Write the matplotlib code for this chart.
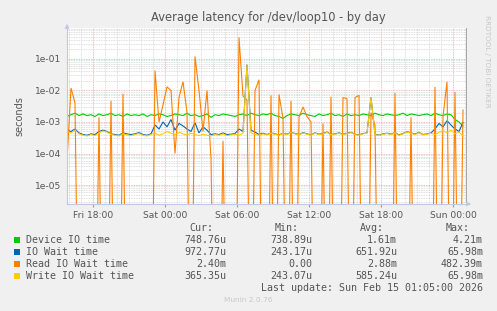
import numpy as np
import matplotlib
matplotlib.use("Agg")
import matplotlib.pyplot as plt
from matplotlib.ticker import FixedLocator, LogLocator, NullFormatter

# samples every 20 minutes, hours relative to Fri 18:00
t_start = -2.1667
step_h = 1.0 / 3.0

# Device IO time (ms)
device_ms = [1.5, 1.7, 1.9, 1.6, 1.8, 1.6, 1.7, 1.5, 1.8, 1.6,
             1.7, 1.9, 1.6, 1.7, 1.5, 1.8, 1.6, 1.7, 1.6, 1.8,
             1.5, 1.7, 1.6, 1.8, 1.7, 1.5, 1.6, 1.8, 1.7, 1.6,
             1.9, 1.6, 1.7, 1.5, 1.6, 1.8, 1.4, 1.7, 1.6, 1.8,
             1.7, 1.6, 1.5, 1.7, 1.8, 1.6, 1.9, 1.7, 1.6, 1.8,
             1.7, 1.9, 1.6, 1.5, 1.3, 1.6, 1.8, 1.7, 1.6, 1.9,
             1.7, 1.6, 1.5, 1.8, 1.6, 1.7, 1.9, 1.6, 1.7, 1.5,
             1.8, 1.6, 1.7, 1.6, 1.8, 1.7, 1.6, 1.9, 1.7, 1.6,
             1.8, 1.7, 1.6, 1.7, 1.9, 1.6, 1.8, 1.7, 1.6, 1.7,
             1.8, 1.6, 1.9, 1.7, 1.6, 1.8, 1.7, 1.2, 1.0, 0.75]

# IO Wait time (ms)
iowait_ms = [0.55, 0.50, 0.60, 0.45, 0.40, 0.38, 0.42, 0.40, 0.50, 0.55,
             0.50, 0.42, 0.40, 0.38, 0.45, 0.42, 0.40, 0.42, 0.46, 0.40,
             0.38, 0.42, 0.80, 0.60, 1.00, 0.70, 1.20, 0.55, 0.90, 0.75,
             0.60, 0.50, 0.95, 0.45, 0.70, 0.55, 0.40, 0.42, 0.40, 0.45,
             0.40, 0.41, 0.43, 0.60, 0.50, 66.0, 0.55, 0.48, 0.40, 0.44,
             0.40, 0.45, 0.42, 0.39, 0.44, 0.41, 0.47, 0.43, 0.40, 0.46,
             0.42, 0.39, 0.45, 0.41, 0.43, 0.48, 0.40, 0.42, 0.45, 0.41,
             0.44, 0.47, 0.41, 0.39, 0.43, 0.45, 6.0, 0.41, 0.38, 0.42,
             0.44, 0.41, 0.46, 0.39, 0.43, 0.49, 0.45, 0.41, 0.47, 0.40,
             0.42, 0.45, 0.60, 0.90, 0.70, 1.10, 0.80, 0.60, 0.50, 0.97]

# Read IO Wait time (ms), 0 = idle
read_ms = [0.06, 12.0, 4.0, 0, 0, 0, 0, 0, 1.4, 0,
           0, 4.7, 0, 0, 7.8, 0, 0, 0, 0, 0,
           0, 0, 43.0, 1.0, 3.5, 13.0, 10.0, 0.1, 6.0, 19.0,
           2.0, 0, 120.0, 10.0, 0.5, 10.0, 0.07, 0, 0, 0.25,
           0, 0, 0, 482.0, 6.7, 5.0, 0, 10.0, 22.0, 0,
           0, 7.0, 0, 7.5, 1.3, 0, 4.7, 0, 1.4, 3.0,
           1.5, 1.0, 0, 0, 0.9, 0, 6.3, 0, 0, 6.0,
           5.5, 0, 6.0, 7.0, 0, 0, 2.0, 0.8, 0, 0,
           0, 0, 8.4, 0, 0, 0, 1.4, 0, 0, 0,
           0, 0, 13.0, 0, 1.5, 19.0, 0, 9.0, 0, 2.4]

# Write IO Wait time (ms)
write_ms = [0.50, 0.45, 0.55, 0.42, 0.38, 0.36, 0.40, 0.37, 0.45, 0.52,
            0.48, 0.40, 0.38, 0.36, 0.42, 0.39, 0.37, 0.40, 0.43, 0.38,
            0.36, 0.40, 0.45, 0.38, 0.42, 0.50, 0.44, 0.40, 0.47, 0.42,
            0.39, 0.44, 0.40, 0.37, 0.41, 0.38, 0.36, 0.40, 0.38, 0.42,
            0.37, 0.39, 0.41, 0.38, 0.44, 66.0, 0.45, 0.40, 0.38, 0.42,
            0.39, 0.44, 0.41, 0.38, 0.43, 0.40, 0.46, 0.42, 0.39, 0.45,
            0.41, 0.38, 0.44, 0.40, 0.42, 0.47, 0.39, 0.41, 0.44, 0.40,
            0.43, 0.46, 0.40, 0.38, 0.42, 0.44, 6.0, 0.40, 0.37, 0.41,
            0.43, 0.40, 0.45, 0.38, 0.42, 0.48, 0.44, 0.40, 0.46, 0.39,
            0.41, 0.44, 0.40, 0.47, 0.52, 0.46, 0.55, 0.42, 0.48, 0.365]

tick_hours = [0, 6, 12, 18, 24, 30]
tick_labels = ["Fri 18:00", "Sat 00:00", "Sat 06:00", "Sat 12:00", "Sat 18:00", "Sun 00:00"]

legend_names = ["Device IO time", "IO Wait time", "Read IO Wait time", "Write IO Wait time"]
legend_colors = ["#00cc00", "#0066b3", "#ff8000", "#ffcc00"]
cur_vals = ["748.76u", "972.77u", "2.40m", "365.35u"]
min_vals = ["738.89u", "243.17u", "0.00", "243.07u"]
avg_vals = ["1.61m", "651.92u", "2.88m", "585.24u"]
max_vals = ["4.21m", "65.98m", "482.39m", "65.98m"]

t = t_start + step_h * np.arange(len(device_ms))
series = [np.array(s) * 1e-3 for s in (device_ms, iowait_ms, read_ms, write_ms)]

ymin, ymax = 2.5e-6, 0.96
xmin, xmax = -2.1667, 31.083

fig = plt.figure(figsize=(4.97, 3.11), dpi=100, facecolor="#f0f0f0")
ax = fig.add_axes([67 / 497, 1 - 204 / 311, 399 / 497, 176 / 311])
ax.set_facecolor("white")
ax.set_yscale("log")
ax.set_xlim(xmin, xmax)
ax.set_ylim(ymin, ymax)

# grids
ax.xaxis.set_major_locator(FixedLocator(np.arange(0, 31, 3)))
ax.xaxis.set_minor_locator(FixedLocator(np.arange(-2, 32, 1)))
ax.yaxis.set_major_locator(LogLocator(base=10, numticks=20))
ax.yaxis.set_minor_locator(LogLocator(base=10, subs=np.arange(2, 10), numticks=20))
ax.yaxis.set_minor_formatter(NullFormatter())
ax.grid(which="minor", color="#d4d4d4", linestyle=(0, (1, 1)), linewidth=0.6)
ax.grid(which="major", color="#e8a8a8", linestyle=(0, (1, 1)), linewidth=0.6)
ax.set_axisbelow(True)

for s, c in zip(series, legend_colors):
    v = np.where(s > 0, s, 1e-12)
    ax.plot(t, v, color=c, linewidth=0.8, solid_joinstyle="miter")
    if c == "#ff8000":
        zero_line = np.where(s > 0, np.nan, ymin * 1.03)
        ax.plot(t, zero_line, color=c, linewidth=0.8)

# ticks and labels
ax.set_xticks(tick_hours, minor=False)
ax.set_xticklabels(tick_labels)
ax.set_yticks([1e-5, 1e-4, 1e-3, 1e-2, 1e-1])
ax.set_yticklabels(["1e-05", "1e-04", "1e-03", "1e-02", "1e-01"])
ax.tick_params(axis="both", which="both", length=0, labelsize=6.6, colors="#555555", pad=4)
ax.tick_params(axis="x", which="major", length=2, color="#e08080", pad=3)
ax.set_ylabel("seconds", fontsize=7, color="#555555", labelpad=8)

for side in ["top"]:
    ax.spines[side].set_visible(False)
ax.spines["right"].set_color("#999999")
ax.spines["right"].set_linewidth(0.6)
ax.spines["left"].set_color("#c0c8e8")
ax.spines["bottom"].set_color("#c0c8e8")
ax.spines["left"].set_linewidth(0.8)
ax.spines["bottom"].set_linewidth(0.8)
ax.annotate("", xy=(0, 1.04), xytext=(0, 0.98), xycoords="axes fraction",
            arrowprops=dict(arrowstyle="-|>", color="#c0c8e8", lw=0.8, mutation_scale=6),
            annotation_clip=False)
ax.annotate("", xy=(1.02, 0), xytext=(0.995, 0), xycoords="axes fraction",
            arrowprops=dict(arrowstyle="-|>", color="#c0c8e8", lw=0.8, mutation_scale=6),
            annotation_clip=False)

fig.text(268 / 497, 1 - 18 / 311, "Average latency for /dev/loop10 - by day",
         ha="center", va="center", fontsize=8.3, color="#555555")
fig.text(487 / 497, 1 - 15 / 311, "RRDTOOL / TOBI OETIKER", rotation=270,
         ha="center", va="top", fontsize=5.2, color="#c8c8c8")

# legend table
mono = "DejaVu Sans Mono"
fs = 7.2
def fy(py):
    return 1 - py / 311

fig.text(213 / 497, fy(228), "Cur:", ha="right", va="center", family=mono, fontsize=fs, color="#555555")
fig.text(299 / 497, fy(228), "Min:", ha="right", va="center", family=mono, fontsize=fs, color="#555555")
fig.text(384 / 497, fy(228), "Avg:", ha="right", va="center", family=mono, fontsize=fs, color="#555555")
fig.text(470 / 497, fy(228), "Max:", ha="right", va="center", family=mono, fontsize=fs, color="#555555")
for k, name in enumerate(legend_names):
    py = 240 + 12 * k
    fig.patches.append(plt.Rectangle((14 / 497, fy(py + 3)), 6 / 497, 6 / 311,
                                     transform=fig.transFigure, facecolor=legend_colors[k],
                                     edgecolor="none"))
    fig.text(26 / 497, fy(py), name, ha="left", va="center", family=mono, fontsize=fs, color="#555555")
    fig.text(226 / 497, fy(py), cur_vals[k], ha="right", va="center", family=mono, fontsize=fs, color="#555555")
    fig.text(312 / 497, fy(py), min_vals[k], ha="right", va="center", family=mono, fontsize=fs, color="#555555")
    fig.text(397 / 497, fy(py), avg_vals[k], ha="right", va="center", family=mono, fontsize=fs, color="#555555")
    fig.text(483 / 497, fy(py), max_vals[k], ha="right", va="center", family=mono, fontsize=fs, color="#555555")

fig.text(483 / 497, fy(288), "Last update: Sun Feb 15 01:05:00 2026", ha="right", va="center",
         family=mono, fontsize=fs, color="#555555")
fig.text(248 / 497, fy(300), "Munin 2.0.76", ha="center", va="center", fontsize=5.3, color="#c8c8c8")

fig.savefig("out.png", dpi=100, facecolor=fig.get_facecolor())
